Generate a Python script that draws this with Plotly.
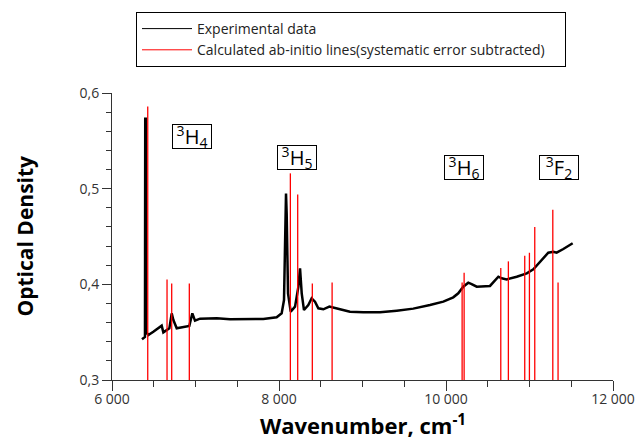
import plotly.graph_objects as go

# Experimental spectrum (wavenumber, optical density)
exp_wn = [6359, 6395, 6398, 6404, 6410, 6435, 6495, 6575, 6595, 6615, 6655, 6687, 6715, 6735,
          6775, 6855, 6926, 6962, 6994, 7054, 7254, 7413, 7613, 7812, 7972, 8032, 8060,
          8076, 8084, 8092, 8108, 8140, 8192, 8232, 8252, 8272, 8299, 8351, 8391, 8431,
          8471, 8531, 8603, 8731, 8850, 9010, 9210, 9410, 9608, 9808, 9968, 10087,
          10147, 10207, 10267, 10307, 10368, 10527, 10587, 10627, 10667, 10727, 10847,
          10967, 11046, 11126, 11225, 11285, 11325, 11405, 11517]
exp_od = [0.3425, 0.345, 0.573, 0.573, 0.350, 0.347, 0.3505, 0.3557, 0.3568, 0.3498, 0.3523,
          0.354, 0.3697, 0.3627, 0.354, 0.355, 0.3564, 0.3697, 0.362, 0.3641, 0.3645,
          0.3634, 0.3634, 0.3638, 0.3655, 0.3697, 0.3836, 0.481, 0.495, 0.474, 0.3906,
          0.3714, 0.3767, 0.3975, 0.4168, 0.3906, 0.3732, 0.3784, 0.3854, 0.3819, 0.3749,
          0.3739, 0.3767, 0.3739, 0.3714, 0.3707, 0.3707, 0.3725, 0.3746, 0.3784, 0.3819,
          0.3864, 0.3906, 0.3975, 0.4017, 0.4003, 0.3975, 0.3983, 0.4045, 0.408, 0.4063,
          0.4052, 0.408, 0.4115, 0.4157, 0.4237, 0.4331, 0.4341, 0.4331, 0.4369, 0.4429]

# Calculated ab-initio lines
calc_wn = [6428, 6659, 6715, 6926, 8136, 8224, 8399, 8636, 10193, 10217, 10656, 10747,
           10943, 10999, 11063, 11279, 11342]
calc_h = [0.586, 0.405, 0.401, 0.401, 0.516, 0.494, 0.401, 0.402, 0.402, 0.412, 0.417,
          0.424, 0.430, 0.433, 0.460, 0.478, 0.402]
baseline = 0.3

# Term labels
lab_text = ["<sup>3</sup>H<sub>4</sub>", "<sup>3</sup>H<sub>5</sub>",
            "<sup>3</sup>H<sub>6</sub>", "<sup>3</sup>F<sub>2</sub>"]
lab_x = [6958, 8218, 10210, 11359]
lab_y = [0.5547, 0.5331, 0.522, 0.522]

FONT = "Open Sans"
EXP_NAME = "Experimental data"
CALC_NAME = "Calculated ab-initio lines(systematic error subtracted)"
PAD = "\u00a0" * 4

seg_x, seg_y = [], []
for w, h in zip(calc_wn, calc_h):
    seg_x += [w, w, None]
    seg_y += [baseline, h, None]

fig = go.Figure()
fig.add_trace(go.Scatter(x=exp_wn, y=exp_od, mode="lines", name=EXP_NAME, showlegend=False,
                         line=dict(color="black", width=2.5)))
fig.add_trace(go.Scatter(x=seg_x, y=seg_y, mode="lines", name=CALC_NAME, showlegend=False,
                         line=dict(color="red", width=1.3)))
# legend entries (thin sample lines as in the reference)
fig.add_trace(go.Scatter(x=[None], y=[None], mode="lines", name=EXP_NAME,
                         line=dict(color="black", width=1)))
fig.add_trace(go.Scatter(x=[None], y=[None], mode="lines", name=CALC_NAME + PAD,
                         line=dict(color="red", width=1)))

for t, x, y in zip(lab_text, lab_x, lab_y):
    fig.add_annotation(x=x, y=y, text=t, showarrow=False,
                       font=dict(family=FONT, size=20, color="black"),
                       width=38, height=23, valign="middle",
                       bordercolor="black", borderwidth=1, borderpad=0, bgcolor="white")

# axis titles as annotations for exact placement
fig.add_annotation(x=0.5, xref="paper", y=(380 - 424) / 287, yref="paper",
                   xanchor="center", yanchor="middle",
                   text="<b>Wavenumber, cm<sup>-1</sup></b>",
                   showarrow=False, font=dict(family=FONT, size=22, color="black"))
fig.add_annotation(x=(24 - 112) / 501, xref="paper", y=0.5, yref="paper",
                   xanchor="center", yanchor="middle", text="<b>Optical Density</b>",
                   textangle=-90, showarrow=False, font=dict(family=FONT, size=21, color="black"))

fig.update_layout(
    width=643, height=445,
    margin=dict(l=112, r=30, t=93, b=65, autoexpand=False),
    plot_bgcolor="white", paper_bgcolor="white",
    separators=", ",
    font=dict(family=FONT, color="#333333"),
    showlegend=True,
    legend=dict(x=(136 - 112) / 501, y=(380 - 12) / 287, xanchor="left", yanchor="top",
                bordercolor="black", borderwidth=1, bgcolor="white",
                font=dict(family=FONT, size=14, color="#222222"),
                tracegroupgap=0, itemwidth=50),
    xaxis=dict(range=[6000, 12000], dtick=2000, tick0=6000, tickformat=",.0f",
               separatethousands=True, automargin=False, ticklabelstandoff=-4,
               showgrid=False, zeroline=False, showline=True, linecolor="#333333",
               ticks="outside", ticklen=10, tickcolor="#333333",
               tickfont=dict(size=14, color="#333333"),
               minor=dict(dtick=500, ticks="outside", ticklen=6, tickcolor="#333333",
                          showgrid=False)),
    yaxis=dict(range=[0.3, 0.6], dtick=0.1, tick0=0.3, tickformat=".1f", automargin=False,
               showgrid=False, zeroline=False, showline=True, linecolor="#333333",
               ticks="outside", ticklen=9, tickcolor="#333333",
               tickfont=dict(size=14, color="#333333"),
               minor=dict(dtick=0.02, ticks="outside", ticklen=5, tickcolor="#333333",
                          showgrid=False)),
)

fig.write_html("out.html", config={"displayModeBar": False},
               post_script="document.body.style.margin='0';")
